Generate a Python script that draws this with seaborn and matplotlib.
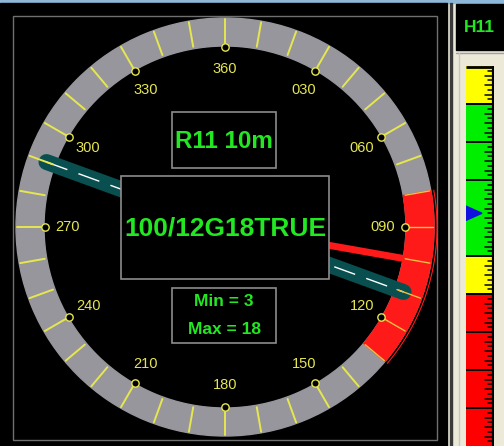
import numpy as np
import matplotlib
matplotlib.use("Agg")
import matplotlib.pyplot as plt
from matplotlib.patches import Rectangle, Polygon, Wedge
from matplotlib import font_manager as fm
import seaborn as sns

sns.set_style("white")
plt.rcParams['font.family'] = ['Liberation Sans', 'DejaVu Sans']

# ---------------- data ----------------
dial_label_bearings = [0, 30, 60, 90, 120, 150, 180, 210, 240, 270, 300, 330]
dial_labels = ['360', '030', '060', '090', '120', '150', '180', '210', '240', '270', '300', '330']
tick_bearings = list(range(0, 360, 10))
runway_name = 'R11 10m'
runway_heading = 110
wind_direction = 100
wind_text = '100/12G18TRUE'
variable_sector = [80, 130]
min_text = 'Min = 3'
max_text = 'Max = 18'
header_text = 'H11'
bar_segment_starts = [0, 8, 40, 48]
bar_segment_ends = [8, 40, 48, 80]
bar_segment_colors = ['#ffff00', '#00ee00', '#ffff00', '#ff0000']
bar_major_lines = [8, 16, 24, 40, 48, 56, 64, 72]
bar_minor_ticks = list(range(1, 80))
bar_marker_value = 31

# ---------------- fonts ----------------
names = {f.name for f in fm.fontManager.ttflist}
if 'Liberation Sans Narrow' in names:
    big_font = 'Liberation Sans Narrow'
    sz_main, sz_rwy, sz_mm = 23, 21.5, 15
else:
    big_font = 'Liberation Sans'
    sz_main, sz_rwy, sz_mm = 19, 17.5, 12.5

# ---------------- layout/style ----------------
W, H = 504, 446
CX, CY = 225, 227
R_OUT, R_IN = 209, 181
GREEN = '#22e822'
YELLOW = '#e6e650'
RING = '#96969c'
RED = '#ff1a1a'
TEAL = '#0a4f50'


def polar(b, r):
    b = np.radians(np.asarray(b, dtype=float))
    return CX + r * np.sin(b), CY - r * np.cos(b)


fig = plt.figure(figsize=(W / 100, H / 100), dpi=100)
fig.patch.set_facecolor('#ece9d8')
ax = fig.add_axes([0, 0, 1, 1])
ax.set_xlim(0, W)
ax.set_ylim(H, 0)
ax.axis('off')

# window chrome
ax.add_patch(Rectangle((0, 0), W, 3, color='#8fb8d8', zorder=0))
ax.add_patch(Rectangle((0, 3), 447, H, color='black', zorder=0))
ax.add_patch(Rectangle((449.5, 3), 2, H, color='#3a3a3a', zorder=0))
ax.add_patch(Rectangle((456, 4), 60, 46, color='black', zorder=0))
ax.plot([456, W], [53, 53], color='#a0a0a0', lw=1, zorder=1)
ax.plot([459, 459], [53, H], color='#c8c8c0', lw=1, zorder=1)
ax.add_patch(Rectangle((13, 16), 424, 424, fill=False, edgecolor='#707070', lw=1, zorder=1))
ax.text(479, 28, header_text, color=GREEN, fontsize=12.5, fontweight='bold',
        ha='center', va='center', family='Liberation Sans', zorder=2)

# ring
ax.add_patch(Wedge((CX, CY), R_OUT, 0, 360, width=R_OUT - R_IN, color=RING, zorder=2))
bs = np.linspace(variable_sector[0], variable_sector[1], 80)
xo, yo = polar(bs, R_OUT)
xi, yi = polar(bs[::-1], R_IN)
ax.add_patch(Polygon(np.column_stack([np.r_[xo, xi], np.r_[yo, yi]]), color=RED, zorder=2.5))
xa, ya = polar(bs, R_OUT + 3)
ax.plot(xa, ya, color=RED, lw=0.8, zorder=2.5)

# runway (teal) with dashed centreline
rx, ry = polar([runway_heading + 180, runway_heading], 190)
ax.plot(rx, ry, color=TEAL, lw=11.5, solid_capstyle='round', zorder=3)
ax.plot(rx, ry, color='white', lw=1, dashes=(16, 8.5), zorder=3.2)

# wind needle
wx, wy = polar([wind_direction, wind_direction], [0, R_OUT])
ax.plot(wx, wy, color=RED, lw=5, solid_capstyle='butt', zorder=3.4)

# ticks
for b in tick_bearings:
    tx, ty = polar([b, b], [183, R_OUT - 1])
    inred = variable_sector[0] <= b <= variable_sector[1]
    ax.plot(tx, ty, color='#f0c040' if inred else YELLOW, lw=1.0 if inred else 1.4, zorder=6)

# markers + labels
mx, my = polar(dial_label_bearings, 180)
sns.scatterplot(x=mx, y=my, ax=ax, s=28, color='black', edgecolor=YELLOW, linewidth=1, zorder=7)
for b, lab in zip(dial_label_bearings, dial_labels):
    lx, ly = polar(b, 158)
    ax.text(lx, ly, lab, color=YELLOW, fontsize=10.5, ha='center', va='center', zorder=7)
ax.set_xlim(0, W)
ax.set_ylim(H, 0)

# central boxes
def box(x0, y0, x1, y1):
    ax.add_patch(Rectangle((x0, y0), x1 - x0, y1 - y0, facecolor='black',
                           edgecolor='#8c8c8c', lw=1.2, zorder=10))

box(172, 112, 276, 168)
box(121, 176, 329, 279)
box(172, 288, 276, 343)
ax.text(224, 141, runway_name, color=GREEN, fontsize=sz_rwy, fontweight='bold',
        family=big_font, ha='center', va='center', zorder=11)
ax.text(225, 229, wind_text, color=GREEN, fontsize=sz_main, fontweight='bold',
        family=big_font, ha='center', va='center', zorder=11)
ax.text(224, 302, min_text, color=GREEN, fontsize=sz_mm, fontweight='bold',
        family=big_font, ha='center', va='center', zorder=11)
ax.text(224, 329, max_text, color=GREEN, fontsize=sz_mm, fontweight='bold',
        family=big_font, ha='center', va='center', zorder=11)

# ---------------- right bar ----------------
axb = fig.add_axes([466 / W, 0, 28 / W, (H - 66) / H])
axb.set_xlim(0, 1)
axb.set_ylim(80, 0)
axb.axis('off')
starts = np.array(bar_segment_starts)
ends = np.array(bar_segment_ends)
axb.bar(x=[0.5] * len(starts), height=ends - starts, bottom=starts, width=1,
        color=bar_segment_colors, linewidth=0, zorder=1)
lengths = [0.27 if t % 2 == 0 else 0.15 for t in bar_minor_ticks]
for t, L in zip(bar_minor_ticks, lengths):
    axb.plot([0.95 - L, 0.95], [t, t], color='black', lw=1.1, zorder=2)
axb.hlines(bar_major_lines, 0, 0.95, color='black', lw=1.4, zorder=2)
axb.hlines([0.15], 0, 0.95, color='black', lw=2, zorder=2)
axb.vlines([0.95], 0, 80, color='black', lw=1.6, zorder=2)
v = bar_marker_value
axb.add_patch(Polygon([(0, v - 1.5), (0, v + 1.5), (0.57, v)], color='#1010e0', zorder=3))

fig.savefig('out.png', dpi=100, facecolor=fig.get_facecolor())
